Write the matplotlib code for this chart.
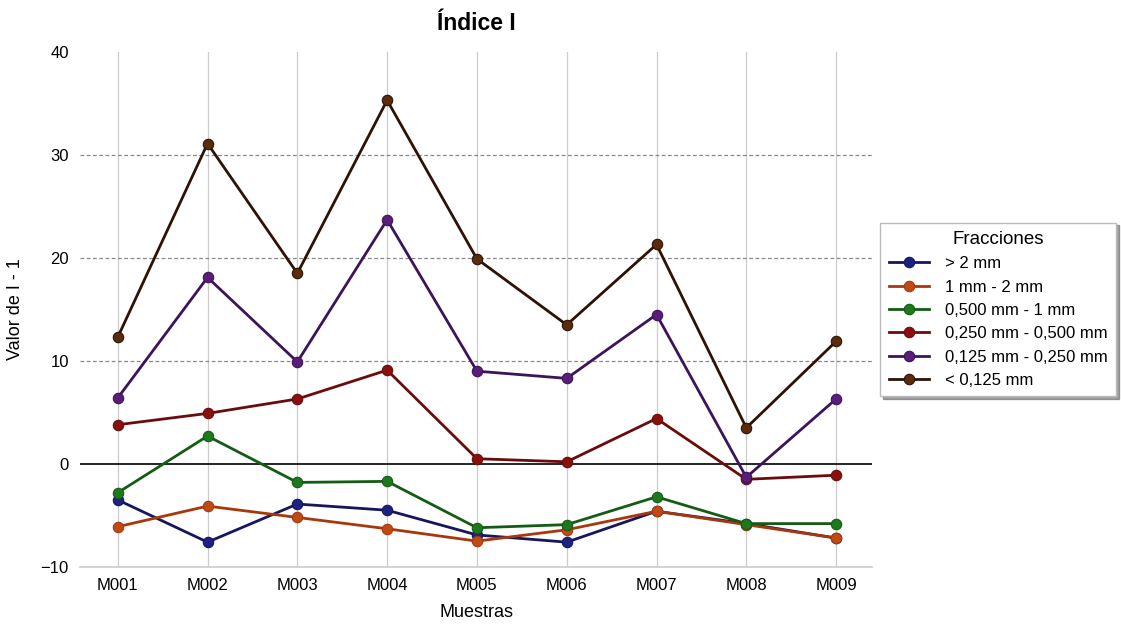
import matplotlib
matplotlib.use("Agg")
import matplotlib.pyplot as plt
import numpy as np

plt.rcParams['font.family'] = ['Liberation Sans', 'DejaVu Sans']

muestras = ["M001", "M002", "M003", "M004", "M005", "M006", "M007", "M008", "M009"]

fracciones = ["> 2 mm", "1 mm - 2 mm", "0,500 mm - 1 mm",
              "0,250 mm - 0,500 mm", "0,125 mm - 0,250 mm", "< 0,125 mm"]

mayor_2 = [-3.5, -7.6, -3.9, -4.5, -6.9, -7.6, -4.6, -5.8, -7.2]
de_1_a_2 = [-6.1, -4.1, -5.2, -6.3, -7.5, -6.4, -4.6, -5.9, -7.2]
de_05_a_1 = [-2.8, 2.7, -1.8, -1.7, -6.2, -5.9, -3.2, -5.8, -5.8]
de_025_a_05 = [3.8, 4.9, 6.3, 9.1, 0.5, 0.2, 4.4, -1.5, -1.1]
de_0125_a_025 = [6.4, 18.1, 9.9, 23.7, 9.0, 8.3, 14.5, -1.3, 6.3]
menor_0125 = [12.3, 31.1, 18.5, 35.3, 19.9, 13.5, 21.3, 3.5, 11.9]

series = [mayor_2, de_1_a_2, de_05_a_1, de_025_a_05, de_0125_a_025, menor_0125]
line_colors = ["#16165e", "#a8380c", "#145c14", "#6a0c0c", "#3c1458", "#2e1206"]
face_colors = ["#1c2280", "#c04a14", "#1c7a1c", "#8a1010", "#5a1e7a", "#5a2c0c"]

fig = plt.figure(figsize=(11.21, 6.25), dpi=100)
ax = fig.add_axes([0.0714, 0.093, 0.7065, 0.824])

x = np.arange(len(muestras))
for vals, lab, lc, fc in zip(series, fracciones, line_colors, face_colors):
    ax.plot(x, vals, color=lc, lw=2.0, marker='o', ms=7.5, mfc=fc,
            mec=lc, mew=0.8, label=lab, zorder=3)

ax.set_xlim(-0.42, 8.4)
ax.set_ylim(-10, 40)
ax.set_xticks(x)
ax.set_xticklabels(muestras)
ax.set_yticks([-10, 0, 10, 20, 30, 40])

# grid
for xi in x:
    ax.axvline(xi, color="#cccccc", lw=0.9, zorder=1)
for yv in [10, 20, 30]:
    ax.axhline(yv, color="#888888", lw=0.9, ls=(0, (3, 2)), zorder=1)
ax.axhline(0, color="black", lw=1.2, zorder=2)

for s in ["top", "right", "left"]:
    ax.spines[s].set_visible(False)
ax.spines["bottom"].set_color("#cccccc")
ax.spines["bottom"].set_linewidth(1.2)
ax.tick_params(axis='both', length=0, labelsize=12, pad=8)

ax.set_xlabel("Muestras", fontsize=13, labelpad=8)
ax.set_ylabel("Valor de I - 1", fontsize=13, labelpad=12)
ax.set_title("Índice I", fontsize=16.5, fontweight="bold", pad=16)

leg = ax.legend(title="Fracciones", loc="center left", bbox_to_anchor=(1.0, 0.5),
                fontsize=12, title_fontsize=13.5, frameon=True, shadow=True,
                fancybox=False, borderpad=0.5, labelspacing=0.5, handlelength=2.4,
                handletextpad=1.0)
leg.get_frame().set_edgecolor("#bbbbbb")

fig.savefig("out.png", dpi=100)
